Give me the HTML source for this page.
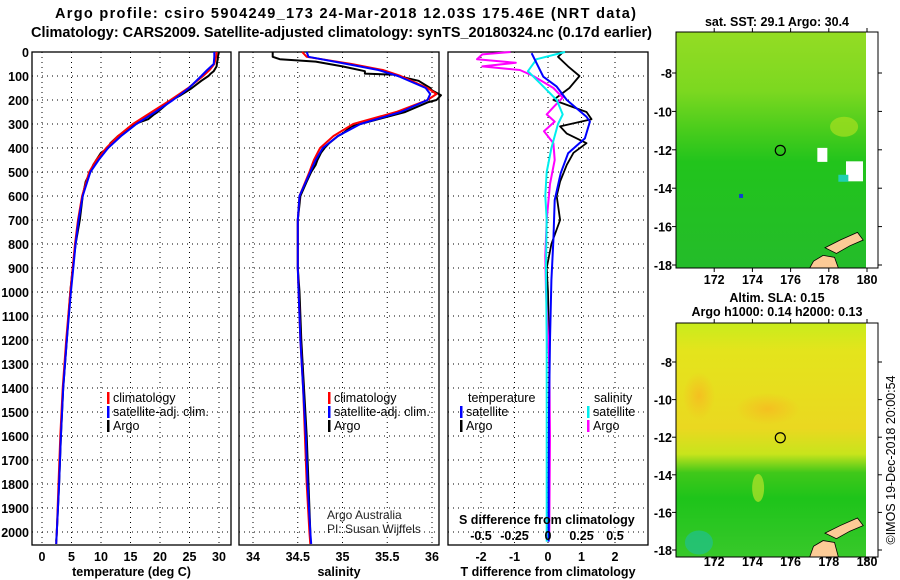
<!DOCTYPE html>
<html><head><meta charset="utf-8">
<style>
html,body{margin:0;padding:0;background:#fff;}
svg{display:block;font-family:"Liberation Sans",Arial,sans-serif;}
.t{font-weight:bold;font-size:14.5px;}
.tk{font-weight:bold;font-size:12.5px;}
.lg{font-size:12.5px;}
</style></head>
<body>
<svg id="c" width="900" height="580" viewBox="0 0 900 580" xmlns="http://www.w3.org/2000/svg">
<text class="t" x="55" y="18" textLength="581" lengthAdjust="spacing">Argo profile: csiro 5904249_173 24-Mar-2018 12.03S 175.46E (NRT data)</text>
<text class="t" x="31" y="37" textLength="621" lengthAdjust="spacingAndGlyphs">Climatology: CARS2009. Satellite-adjusted climatology: synTS_20180324.nc (0.17d earlier)</text>
<g id="g"></g>
</svg>
<script>
// ---- data ----
const depthTicks=[0,100,200,300,400,500,600,700,800,900,1000,1100,1200,1300,1400,1500,1600,1700,1800,1900,2000];
const tempTicks=[0,5,10,15,20,25,30];
const salTicks=[34,34.5,35,35.5,36];
const tdiffTicks=[-2,-1,0,1,2];
const sdiffTicks=[-0.5,-0.25,0,0.25,0.5];
const sdiffTickLabels=["-0.5","-0.25","0","0.25","0.5"];

const climDepth=[0,20,50,75,100,150,175,200,250,300,350,400,450,500,600,700,800,900,1000,1200,1400,1600,1800,2000,2050];
const climTemp=[29.6,29.5,29.2,28.4,27.3,24.8,23.3,21.8,18.6,15.4,12.9,10.9,9.2,8.0,6.8,6.1,5.6,5.2,4.8,4.1,3.5,3.1,2.8,2.5,2.4];
const satTemp=[29.2,29.2,29.1,28.0,27.0,24.9,23.6,22.2,19.2,16.0,13.4,11.2,9.6,8.2,6.9,6.2,5.7,5.3,4.9,4.2,3.6,3.2,2.9,2.5,2.4];
const climSal=[34.55,34.6,35.1,35.45,35.65,35.95,36.05,35.95,35.6,35.12,34.9,34.75,34.68,34.63,34.52,34.5,34.5,34.5,34.51,34.53,34.56,34.58,34.6,34.63,34.64];
const satSal=[34.6,34.62,35.05,35.4,35.62,35.93,35.98,35.95,35.65,35.2,34.95,34.78,34.7,34.64,34.52,34.5,34.5,34.5,34.51,34.53,34.56,34.59,34.61,34.64,34.65];

const argoDepth=[0,20,30,40,60,80,90,95,100,120,150,160,180,200,210,250,260,280,300,310,340,350,380,400,420,450,470,500,540,600,700,800,900,1000,1200,1400,1600,1800,2000,2040];
const argoTemp=[30.0,29.8,29.8,29.7,29.6,29.1,28.6,28.4,28.2,27.0,25.4,24.8,23.5,22.0,21.5,19.6,19.0,18.0,15.7,15.0,13.5,12.9,11.6,11.2,10.0,9.2,8.7,8.2,7.4,6.9,6.4,5.7,5.2,4.8,4.2,3.6,3.2,2.9,2.5,2.4];
const argoSal=[34.22,34.22,34.3,34.7,35.0,35.25,35.25,35.6,35.62,35.85,35.98,36.0,36.1,36.05,35.95,35.7,35.6,35.4,35.2,35.1,35.0,34.95,34.85,34.8,34.76,34.72,34.7,34.65,34.6,34.53,34.5,34.5,34.5,34.52,34.54,34.57,34.6,34.62,34.64,34.64];

const diffDepth=[5,103,144,200,270,290,360,422,505,617,783,950,1200,1500,1800,2040];
const satTdiff=[-0.49,-0.14,0.26,0.56,1.15,1.25,1.1,0.6,0.38,0.2,0.16,0.1,0.06,0.03,0.02,0.02];
const cyanDepth=[0,30,80,130,200,260,300,400,500,600,700,900,1200,1500,1800,2040];
const satSdiff=[0.127,-0.085,-0.15,-0.06,0.065,0.11,0.075,0.025,-0.01,-0.02,-0.01,-0.015,-0.01,-0.01,-0.01,-0.01];
const argoTdDepth=[0,20,60,100,150,200,250,280,310,340,380,420,470,540,600,700,800,900,1000,1300,1600,2000];
const argoTdiff=[0.45,0.3,0.6,0.94,0.64,0.16,1.15,1.3,0.36,0.56,1.15,0.76,0.56,0.36,0.26,0.36,0.1,-0.04,0.0,0.04,0.03,0.02];
const argoSdDepth=[0,10,30,45,60,75,100,150,190,230,260,290,330,380,450,550,700,850,1000,1300,1600,2000];
const argoSdiff=[-0.28,-0.49,-0.53,-0.24,-0.49,-0.21,-0.11,0.04,0.11,0.04,-0.01,0.05,-0.03,0.04,0.05,0.015,-0.01,-0.02,-0.015,0.01,0.015,0.01];

const latTicks=[-8,-10,-12,-14,-16,-18];
const lonTicks=[172,174,176,178,180];
const floatLon=175.46, floatLat=-12.03;

// ---- scales ----
const dy=d=>52+d*0.24;
const tx=v=>42+v*5.9;
const sx=v=>253+(v-34)*89.5;
const dx=v=>548+v*33.5;
const dsx=v=>548+v*134;
const lonX=l=>676+(l-170)*19.1;
const latY1=l=>73+(-8-l)*19.2;
const latY2=l=>362+(-8-l)*18.8;

const NS='http://www.w3.org/2000/svg';
const G=document.getElementById('g');
function mk(tag,attrs,parent){const e=document.createElementNS(NS,tag);for(const k in attrs)e.setAttribute(k,attrs[k]);(parent||G).appendChild(e);return e;}
function txt(s,attrs){const e=mk('text',attrs);e.textContent=s;return e;}

const panels=[
 {x0:32,x1:231,ticks:tempTicks,f:tx,labels:tempTicks.map(String),title:'temperature (deg C)',name:'temperature'},
 {x0:239,x1:439,ticks:salTicks,f:sx,labels:["34","34.5","35","35.5","36"],title:'salinity',name:'salinity'},
 {x0:448,x1:648,ticks:tdiffTicks,f:dx,labels:tdiffTicks.map(String),title:'T difference from climatology',name:'difference'}
];
const Y0=52,Y1=545;
panels.forEach((p,i)=>{
  p.ticks.forEach(v=>{const l=mk('line',{x1:p.f(v),x2:p.f(v),y1:Y0,y2:Y1,stroke:'#000','stroke-width':1,'stroke-dasharray':'1,4'});
    });
  depthTicks.forEach(d=>{const l=mk('line',{x1:p.x0,x2:p.x1,y1:dy(d),y2:dy(d),stroke:'#000','stroke-width':1,'stroke-dasharray':'1,4'});
    });
  const r=mk('rect',{x:p.x0,y:Y0,width:p.x1-p.x0,height:Y1-Y0,fill:'none',stroke:'#000','stroke-width':1.3});
  
  p.ticks.forEach((v,j)=>{const t=txt(p.labels[j],{x:p.f(v),y:561,'text-anchor':'middle',class:'tk'});
    });
  const tt=txt(p.title,{x:(p.x0+p.x1)/2,y:576,'text-anchor':'middle',class:'tk'});
  
});
depthTicks.forEach(d=>{const t=txt(String(d),{x:29,y:dy(d)+5,'text-anchor':'end',class:'tk'});
  });

function line(depths,vals,f,color,name,w){
  const pts=depths.map((d,i)=>f(vals[i]).toFixed(1)+','+dy(d).toFixed(1)).join(' ');
  const l=mk('polyline',{points:pts,fill:'none',stroke:color,'stroke-width':w||2,'stroke-linejoin':'round'});
  
}
line(argoDepth,argoTemp,tx,'#000','argo-temperature-line');
line(climDepth,climTemp,tx,'#f00','climatology-temperature-line');
line(climDepth,satTemp,tx,'#00f','satellite-temperature-line');
line(argoDepth,argoSal,sx,'#000','argo-salinity-line');
line(climDepth,climSal,sx,'#f00','climatology-salinity-line');
line(climDepth,satSal,sx,'#00f','satellite-salinity-line');
line(argoTdDepth,argoTdiff,dx,'#000','argo-t-difference-line',1.8);
line(argoSdDepth,argoSdiff,dsx,'#f0f','argo-s-difference-line');
line(cyanDepth,satSdiff,dsx,'#0ee','satellite-s-difference-line');
line(diffDepth,satTdiff,dx,'#00f','satellite-t-difference-line');

function legItem(x,y,color,label,name){
  const r=mk('rect',{x:x,y:y-10,width:2.5,height:12,fill:color});
  
  const t=txt(label,{x:x+6,y:y,class:'lg'});
  
}
legItem(107,402,'#f00','climatology','temp-legend-climatology');
legItem(107,416,'#00f','satellite-adj. clim.','temp-legend-satellite');
legItem(107,430,'#000','Argo','temp-legend-argo');
legItem(328,402,'#f00','climatology','sal-legend-climatology');
legItem(328,416,'#00f','satellite-adj. clim.','sal-legend-satellite');
legItem(328,430,'#000','Argo','sal-legend-argo');
let e=txt('temperature',{x:468,y:402,class:'lg'});
e=txt('salinity',{x:594,y:402,class:'lg'});
legItem(460,416,'#00f','satellite','diff-legend-t-satellite');
legItem(460,430,'#000','Argo','diff-legend-t-argo');
legItem(587,416,'#0ee','satellite','diff-legend-s-satellite');
legItem(587,430,'#f0f','Argo','diff-legend-s-argo');
e=txt('Argo Australia',{x:327,y:519,'font-size':'12','fill':'#222'});
e=txt('PI: Susan Wijffels',{x:327,y:533,'font-size':'12','fill':'#222'});
e=txt('S difference from climatology',{x:459,y:524,class:'tk'});
sdiffTicks.forEach((v,j)=>{const t=txt(sdiffTickLabels[j],{x:dsx(v),y:540,'text-anchor':'middle',class:'tk'});
  });

// ---- maps ----
const defs=mk('defs',{});
function grad(id,stops){
  const g=mk('linearGradient',{id:id,x1:0,y1:0,x2:0,y2:1},defs);
  stops.forEach(s=>mk('stop',{offset:s[0],'stop-color':s[1]},g));
}
grad('sst',[[0,'#94dc24'],[0.25,'#7cd820'],[0.42,'#48cc1c'],[0.55,'#22c41c'],[1,'#24bc2a']]);
grad('sla',[[0,'#c8ec1c'],[0.12,'#e4e41c'],[0.45,'#ead820'],[0.56,'#c8e41c'],[0.64,'#40c81a'],[0.75,'#1ec41a'],[1,'#38c82a']]);
const rg=mk('radialGradient',{id:'orb'},defs);
mk('stop',{offset:0,'stop-color':'#f4c020'},rg);mk('stop',{offset:1,'stop-color':'#f4c020','stop-opacity':0},rg);

function map(yTop,yBot,latY,gradId,name,tickLabelY,extra){
  const grp=mk('g',{});
  mk('rect',{x:676,y:yTop,width:190,height:yBot-yTop,fill:'url(#'+gradId+')'},grp);
  extra(grp);
  const lp='M'+lonX(177.8)+','+latY(-17.1)+' L'+lonX(178.6)+','+latY(-16.7)+' L'+lonX(179.5)+','+latY(-16.3)+' L'+lonX(179.8)+','+latY(-16.7)+' L'+lonX(179.1)+','+latY(-17.0)+' L'+lonX(178.4)+','+latY(-17.4)+' Z';
  mk('path',{d:lp,fill:'#fccb96',stroke:'#000','stroke-width':0.8},grp);
  const lp2='M'+lonX(177)+','+yBot+' L'+lonX(177.2)+','+latY(-17.8)+' L'+lonX(177.7)+','+latY(-17.5)+' L'+lonX(178.3)+','+latY(-17.6)+' L'+lonX(178.5)+','+yBot+' Z';
  mk('path',{d:lp2,fill:'#fccb96',stroke:'#000','stroke-width':0.8},grp);
  const fr=mk('rect',{x:676,y:yTop,width:202,height:yBot-yTop,fill:'none',stroke:'#000','stroke-width':1});
  
  latTicks.forEach(l=>{
    mk('line',{x1:672,x2:676,y1:latY(l),y2:latY(l),stroke:'#000'},grp);
    mk('line',{x1:878,x2:882,y1:latY(l),y2:latY(l),stroke:'#000'},grp);
    const t=txt(String(l),{x:672,y:latY(l)+5,'text-anchor':'end',class:'tk'});
    });
  lonTicks.forEach(l=>{
    mk('line',{x1:lonX(l),x2:lonX(l),y1:yBot,y2:yBot+4,stroke:'#000'},grp);
    mk('line',{x1:lonX(l),x2:lonX(l),y1:yTop-4,y2:yTop,stroke:'#000'},grp);
    const t=txt(String(l),{x:lonX(l),y:tickLabelY,'text-anchor':'middle',class:'tk'});
    });
  const c=mk('circle',{cx:lonX(floatLon),cy:latY(floatLat),r:5,fill:'none',stroke:'#000','stroke-width':1.2});
  
}
map(32,268,latY1,'sst','sst-map',284,g=>{
  mk('rect',{x:lonX(177.4),y:latY1(-11.9),width:10,height:14,fill:'#fff'},g);
  mk('rect',{x:lonX(178.9),y:latY1(-12.6),width:17,height:20,fill:'#fff'},g);
  mk('rect',{x:lonX(178.5),y:latY1(-13.3),width:10,height:7,fill:'#20d0b0'},g);
  mk('rect',{x:lonX(173.3),y:latY1(-14.3),width:4,height:4,fill:'#1040d0'},g);
  mk('ellipse',{cx:lonX(178.8),cy:latY1(-10.8),rx:14,ry:10,fill:'#a8e020',opacity:0.7},g);
});
map(323,557,latY2,'sla','sla-map',566,g=>{
  mk('ellipse',{cx:lonX(174.8),cy:latY2(-10.5),rx:32,ry:16,fill:'url(#orb)'},g);
  mk('ellipse',{cx:lonX(171.2),cy:latY2(-9.8),rx:16,ry:24,fill:'url(#orb)'},g);
  mk('ellipse',{cx:lonX(171.2),cy:latY2(-17.6),rx:14,ry:12,fill:'#20c090',opacity:0.7},g);
  mk('ellipse',{cx:lonX(174.3),cy:latY2(-14.7),rx:6,ry:14,fill:'#a8e028',opacity:0.8},g);
});
e=txt('sat. SST: 29.1 Argo: 30.4',{x:777,y:26,'text-anchor':'middle',class:'tk'});
e=txt('Altim. SLA: 0.15',{x:777,y:302,'text-anchor':'middle',class:'tk'});
e=txt('Argo h1000: 0.14 h2000: 0.13',{x:777,y:316,'text-anchor':'middle',class:'tk'});
e=txt('©IMOS 19-Dec-2018 20:00:54',{x:0,y:0,'text-anchor':'middle','font-size':'12.5',transform:'translate(895,460) rotate(-90)'});
</script>
</body></html>
